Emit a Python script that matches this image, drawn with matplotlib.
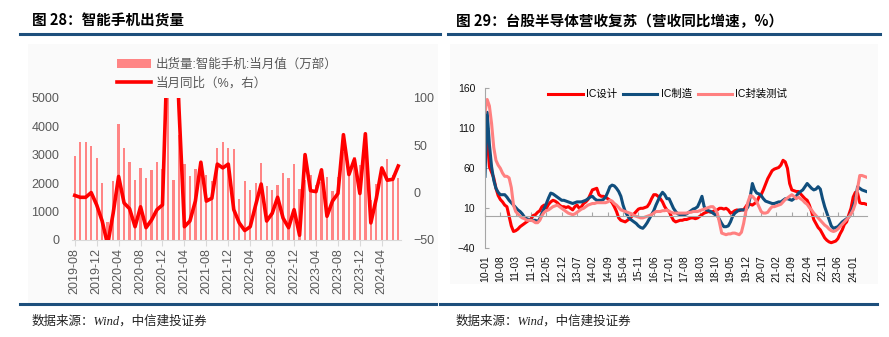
import matplotlib.pyplot as plt
import pandas as pd
from matplotlib.patches import Rectangle
from matplotlib.lines import Line2D

plt.rcParams['font.family'] = ['Liberation Sans', 'Noto Sans CJK SC']

# ---- left chart: smartphone shipments (2019-08 .. 2024-07)
phone_month = pd.period_range('2019-08', periods=60, freq='M').strftime('%Y-%m').tolist()
phone_units = [2940, 3440, 3440, 3320, 2870, 2000, 640, 2070, 4060, 3250, 2740, 2100,
               2540, 2180, 2470, 2740, 2490, 5100, 2100, 3700, 2660, 2250, 2490, 2740,
               2270, 2060, 3250, 3440, 3240, 3210, 1430, 2070, 1740, 2020, 2720, 1880,
               1770, 1950, 2340, 2190, 2660, 1800, 2100, 2300, 1950, 2040, 2200, 1710,
               2200, 3100, 2550, 2910, 2650, 3000, 1400, 1980, 2500, 2830, 2300, 2180]
phone_yoy = [-3, -5, -5, 0, -13, -30, -55, -22, 17, -11, -17, -36,
             -15, -37, -29, -18, -13, 170, 240, 90, -36, -30, -9, 32,
             -9, -6, 30, 26, 30, -18, -32, -40, -36, -13, 9, -30,
             -22, -5, -27, -37, -18, -45, 40, 2, 1, 24, -25, -9,
             -1, 61, 19, 35, -1, 62, -32, -6, 26, 13, 14, 28]

# ---- right chart: Taiwan semiconductor revenue yoy (2010-01 .. 2024-07)
ic_month = pd.period_range('2010-01', periods=175, freq='M').strftime('%y-%m').tolist()
ic_design = [95, 100, 62, 55, 48, 35, 26, 21, 18, 14, 12, 0,
             -12, -19, -18, -16, -13, -11, -9, -7, -5, -3, 1, 2,
             5, 7, 12, 14, 10, 15, 18, 20, 19, 17, 14, 12,
             12, 11, 12, 10, 8, 12, 14, 10, 12, 16, 18, 21,
             27, 33, 34, 35, 27, 25, 25, 24, 22, 20, 17, 12,
             6, -2, -5, -6, -7, -5, -3, 0, 3, 6, 9, 10,
             10, 11, 12, 16, 22, 27, 27, 25, 22, 18, 12, 8,
             6, 0, -5, -7, -6, -5, -5, -4, -4, -3, -2, -2,
             -3, -2, 0, 2, 4, 5, 6, 5, 6, 7, 8, 10,
             10, 9, 10, 8, 4, 5, 7, 8, 7, 8, 8, 12,
             16, 15, 14, 16, 18, 24, 27, 33, 40, 47, 52, 57,
             59, 60, 61, 64, 70, 68, 60, 41, 33, 32, 31, 31,
             28, 25, 22, 20, 14, 6, -4, -9, -14, -17, -22, -27,
             -30, -32, -33, -32, -31, -28, -22, -17, -10, -7, 2, 10,
             24, 30, 29, 17, 16, 16, 15]
ic_foundry = [50, 130, 90, 62, 45, 35, 30, 27, 27, 27, 24, 20,
              17, 14, 11, 8, 6, 3, -1, -3, -4, -5, -5, -5,
              -7, -3, 4, 10, 16, 23, 29, 28, 26, 24, 22, 20,
              20, 19, 18, 17, 16, 17, 18, 18, 18, 19, 20, 22,
              24, 25, 22, 20, 20, 20, 21, 24, 30, 37, 39, 38,
              35, 31, 25, 14, 6, 1, -3, -5, -7, -9, -12, -14,
              -15, -12, -8, -3, 2, 7, 14, 20, 26, 30, 27, 22,
              22, 16, 10, 6, 3, 2, 2, 2, 3, 5, 7, 9,
              10, 12, 18, 25, 12, 8, 7, 6, 4, 2, 1, -4,
              -9, -13, -13, -12, -7, 0, 4, 6, 8, 8, 8, 8,
              12, 24, 41, 33, 29, 28, 26, 22, 19, 18, 17, 16,
              16, 17, 18, 18, 20, 22, 22, 21, 20, 22, 25, 29,
              31, 33, 37, 41, 38, 35, 33, 34, 37, 34, 22, 12,
              4, -4, -12, -15, -14, -13, -10, -7, -5, -3, -1, 4,
              12, 20, 37, 35, 33, 32, 31]
ic_packaging = [130, 146, 138, 116, 86, 70, 64, 60, 54, 50, 50, 48,
                36, 14, 6, 3, 0, -2, -3, -5, -5, -5, -6, -8,
                -8, -5, 1, 5, 7, 8, 10, 12, 13, 14, 12, 10,
                8, 6, 4, 3, 2, 3, 5, 7, 9, 10, 12, 14,
                15, 16, 16, 17, 17, 17, 17, 17, 18, 20, 19, 16,
                14, 11, 8, 7, 6, 5, 4, 3, 1, 0, -1, -2,
                -2, -1, 0, 1, 2, 4, 6, 6, 6, 7, 7, 8,
                6, 5, 4, 4, 4, 4, 4, 4, 4, 5, 5, 6,
                6, 6, 7, 8, 9, 10, 11, 12, 12, 9, 4, -8,
                -21, -22, -23, -22, -22, -21, -21, -22, -23, -20, -9, 6,
                18, 26, 25, 22, 18, 12, 6, 4, 4, 5, 9, 12,
                12, 13, 14, 15, 18, 21, 23, 25, 27, 25, 22, 24,
                22, 20, 17, 15, 11, 8, 4, 1, -2, -5, -8, -11,
                -13, -16, -18, -19, -18, -16, -13, -10, -7, -4, -1, 3,
                8, 16, 35, 51, 51, 50, 49]

W, H = 889, 337
GRAY = '#595959'
RULE = '#1d4f7c'


def box(l, t, r, b):
    # pixel box -> figure fraction
    return [l / W, 1 - b / H, (r - l) / W, (b - t) / H]


fig = plt.figure(figsize=(W / 100, H / 100), dpi=100)

# light panel backgrounds
for l, t, r, b in [(28, 44, 438, 304), (450, 44, 878, 284)]:
    fig.add_artist(Rectangle((l / W, 1 - b / H), (r - l) / W, (b - t) / H,
                             transform=fig.transFigure, facecolor='#fafafa',
                             edgecolor='none', zorder=0))

# header / footer rules
for x0, x1, y in [(20, 440, 33.5), (448, 880, 33.5), (20, 436, 304), (440, 877, 304)]:
    fig.add_artist(Line2D([x0 / W, x1 / W], [1 - y / H, 1 - y / H],
                          color=RULE, lw=2.2, transform=fig.transFigure))

fig.text(32 / W, 1 - 21 / H, '图 28：智能手机出货量', fontsize=10.5, fontweight='bold',
         va='center', family=['Noto Sans CJK SC'])
fig.text(456 / W, 1 - 21 / H, '图 29：台股半导体营收复苏（营收同比增速，%）', fontsize=10.5,
         fontweight='bold', va='center', family=['Noto Sans CJK SC'])
for x in (32, 456):
    fig.text(x / W, 1 - 321 / H, '数据来源：Wind，中信建投证券', fontsize=9, style='italic',
             va='center', color='#222222', family=['Liberation Serif', 'Noto Sans CJK SC'])

# ---- left chart
ax = fig.add_axes(box(72, 97.7, 401, 240))
ax.set_facecolor('none')
xs = range(len(phone_units))
bars = ax.bar(xs, phone_units, width=0.42, color='#ff8585', label='出货量:智能手机:当月值（万部）')
ax.set_xlim(-0.5, 59.5)
ax.set_ylim(0, 5000)
ax.set_yticks(range(0, 5001, 1000))
ax.set_xticks(range(0, 60, 4))
ax.set_xticklabels(phone_month[::4], rotation=90)
for s in ['top', 'left', 'right']:
    ax.spines[s].set_visible(False)
ax.spines['bottom'].set_color('#d9d9d9')
ax.tick_params(axis='y', length=0, labelsize=9, labelcolor=GRAY, pad=9)
ax.tick_params(axis='x', length=4, color='#d9d9d9', labelsize=9, labelcolor=GRAY, pad=2)

ax2 = ax.twinx()
line, = ax2.plot(xs, phone_yoy, color='#ff0000', lw=2.6, label='当月同比（%，右）')
ax2.set_ylim(-50, 100)
ax2.set_yticks([-50, 0, 50, 100])
for s in ax2.spines.values():
    s.set_visible(False)
ax2.tick_params(axis='y', length=0, labelsize=9, labelcolor=GRAY, pad=9)

fig.legend([bars, line], [bars.get_label(), line.get_label()], loc='upper left',
           bbox_to_anchor=(111 / W, 1 - 52 / H), frameon=False, fontsize=9,
           handlelength=2.7, handletextpad=0.4, labelspacing=0.5, borderpad=0,
           labelcolor=GRAY)

# ---- right chart
rx = fig.add_axes(box(485, 88.3, 867, 248.3))
rx.set_facecolor('none')
t = range(len(ic_design))
rx.plot(t, ic_design, color='#ff0000', lw=2.2, label='IC设计')
rx.plot(t, ic_foundry, color='#104e7d', lw=2.2, label='IC制造')
rx.plot(t, ic_packaging, color='#ff8080', lw=2.2, label='IC封装测试')
rx.set_xlim(0, 174.3)
rx.set_ylim(-40, 160)
rx.set_yticks([-40, 10, 60, 110, 160])
rx.set_xticks(range(0, 175, 7))
rx.spines['bottom'].set_position(('data', 0))
for s in ['top', 'right']:
    rx.spines[s].set_visible(False)
rx.spines['left'].set_color('#a6a6a6')
rx.spines['bottom'].set_color('#a6a6a6')
rx.tick_params(axis='x', direction='in', length=3, color='#a6a6a6', labelbottom=False)
rx.tick_params(axis='y', direction='in', length=3, color='#a6a6a6', labelsize=7.5,
               labelcolor='#111111', pad=7)

# month labels sit under the plot, not on the zero line
sec = rx.secondary_xaxis('bottom')
sec.set_xticks(range(0, 175, 7))
sec.set_xticklabels(ic_month[::7], rotation=90)
sec.tick_params(length=0, labelsize=7.5, labelcolor='#111111', pad=5)
sec.spines['bottom'].set_visible(False)

rx.legend(loc='center left', bbox_to_anchor=(543 / W, 1 - 94 / H), bbox_transform=fig.transFigure,
          ncol=3, frameon=False, fontsize=7.5, handlelength=3.3, handletextpad=0.3,
          columnspacing=0.6, borderpad=0)

fig.savefig('out.png', dpi=100)
